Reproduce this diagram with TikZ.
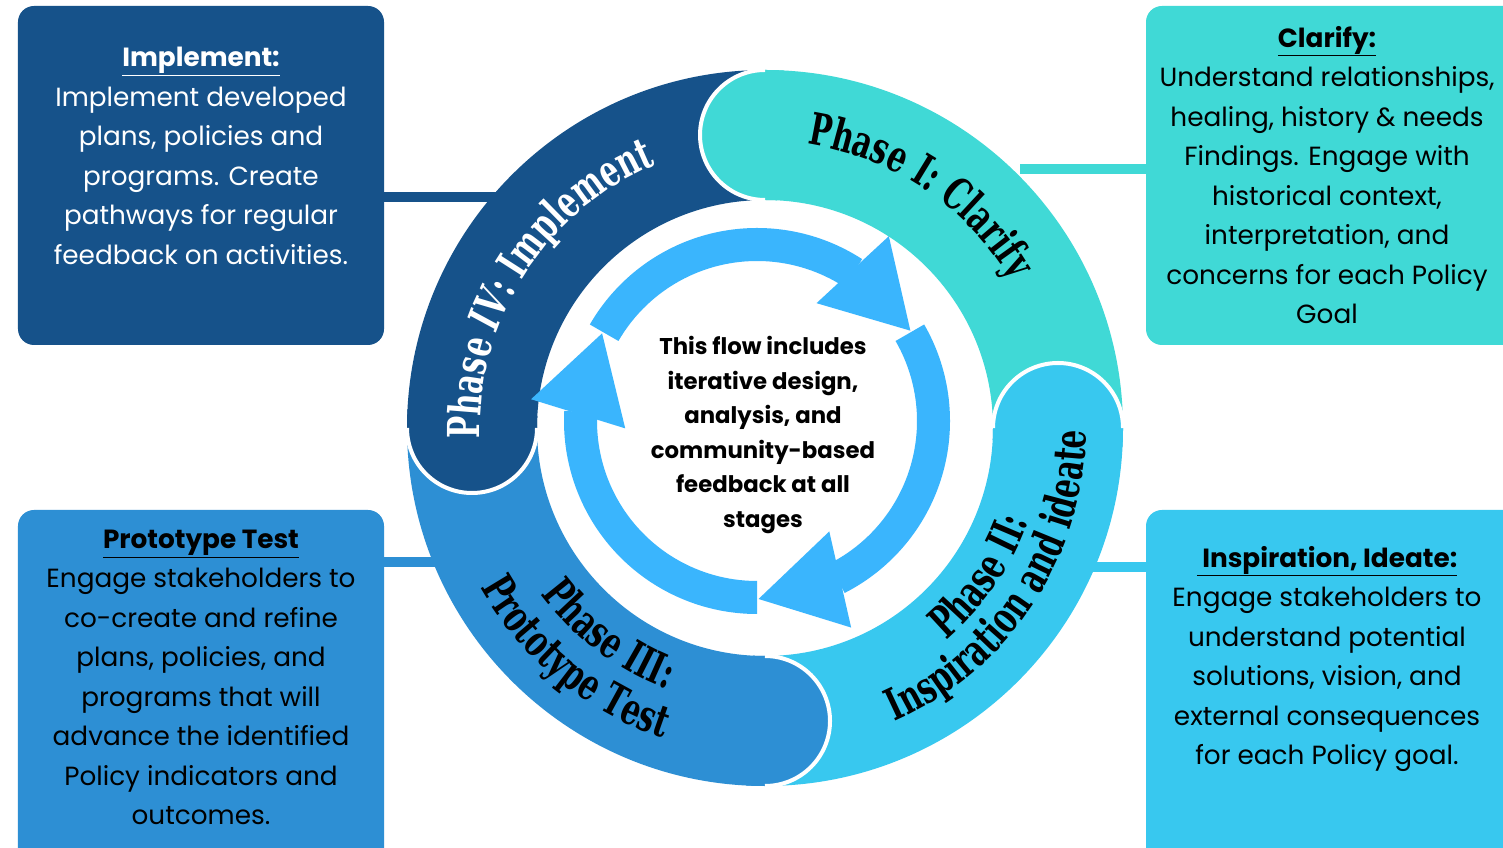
\documentclass[tikz,border=0pt]{standalone}
\usepackage{fontspec}
\setmainfont{Poppins}
\newfontfamily\phasefam[FakeStretch=0.67]{DejaVu Serif Bold}
\newfontfamily\phaseitfam[FakeStretch=0.67]{DejaVu Serif Bold Italic}
\usetikzlibrary{calc,decorations.text}
\definecolor{cI}{HTML}{40D9D6}
\definecolor{cII}{HTML}{38C8EF}
\definecolor{cIII}{HTML}{2D8FD4}
\definecolor{cIV}{HTML}{16528A}
\definecolor{carr}{HTML}{3AB5FD}
\newcommand\phtext{\phasefam\fontsize{44bp}{48bp}\selectfont}
\newcommand\phtextit{\phaseitfam\fontsize{44bp}{48bp}\selectfont}
\newcommand\bodytext{\fontsize{26.3bp}{39.5bp}\selectfont}
\tikzset{
  panel/.style={rectangle, rounded corners=16bp, draw=none, inner sep=0pt},
  paneltext/.style={align=center, inner sep=0pt, font=\bodytext},
  conn/.style={line width=10bp},
  arrfill/.style={fill=carr},
  gapline/.style={draw=white, line width=4bp},
  phaselabel/.style={decorate, decoration={text along path, text align=center, text color=#1}},
}
\begin{document}
\begin{tikzpicture}[x=1bp,y=1bp]
\useasboundingbox (0,0) rectangle (1503,847);
\clip (0,0) rectangle (1503,847);
\fill[white] (0,0) rectangle (1503,847);
\def\Ro{358}\def\Ri{228}\def\Rc{65}
\coordinate (C) at (765,419);
\coordinate (A) at (757,426);

% panels
\node[panel, fill=cIV, minimum width=366bp, minimum height=339bp] (implbox) at (201,671.5) {};
\node[panel, fill=cI, minimum width=384bp, minimum height=339bp] (clarbox) at (1338,671.5) {};
\node[panel, fill=cIII, minimum width=366bp, minimum height=360bp] (protbox) at (201,157) {};
\node[panel, fill=cII, minimum width=384bp, minimum height=360bp] (inspbox) at (1338,157) {};

% connector anchors on the ring
\coordinate (r4) at (505,650);
\coordinate (r1) at (1020,678);
\coordinate (r3) at (448,285);
\coordinate (r2) at (1082,280);
\draw[conn, cIV] (implbox.east |- r4) -- (r4);
\draw[conn, cI] (clarbox.west |- r1) -- (r1);
\draw[conn, cIII] (protbox.east |- r3) -- (r3);
\draw[conn, cII] (inspbox.west |- r2) -- (r2);

% ring sectors
\foreach \h/\c in {90/cI, 180/cIV, 270/cIII, 360/cII}{
  \fill[\c] ($(C)+(\h-90:\Ro)$) arc[start angle=\h-90, end angle=\h, radius=\Ro bp]
    -- ($(C)+(\h:\Ri)$) arc[start angle=\h, end angle=\h-90, radius=\Ri bp] -- cycle;
}
% rounded heads
\foreach \h/\c in {90/cI, 180/cIV, 270/cIII, 360/cII}{
  \fill[\c] ($(C)+(\h-3:\Ro)$) arc[start angle=\h-3, end angle=\h, radius=\Ro bp]
    arc[start angle=\h, end angle=\h+180, radius=\Rc bp]
    arc[start angle=\h, end angle=\h-3, radius=\Ri bp] -- cycle;
  \draw[gapline] ($(C)+(\h:\Ro)$) arc[start angle=\h, end angle=\h+180, radius=\Rc bp];
}

% inner cycle arrows
\foreach \t in {150,30,-90}{
  \fill[arrfill] ($(A)+(\t:193)$) arc[start angle=\t, end angle=\t-93, radius=193bp]
    -- ($(A)+(\t-93:160)$) arc[start angle=\t-93, end angle=\t, radius=160bp] -- cycle;
  \fill[arrfill] ($(A)+(\t-86.8:132)$) -- ($(A)+(\t-95.5:227)$) -- ($(A)+(\t-119.5:178)$) -- cycle;
}

% phase labels
\path[phaselabel=black, decoration={text={|\phtext|Phase I: Clarify}}]
  ($(C)+(116.2:287)$) arc[start angle=116.2, end angle=-3.8, radius=287bp];
\path[phaselabel=white, decoration={text={|\phtext|Phase |\phtextit|IV|\phtext|: Implement}}]
  ($(C)+(207.3:285)$) arc[start angle=207.3, end angle=87.3, radius=285bp];
\path[phaselabel=black, decoration={text={|\phtext|Phase III:}}]
  ($(C)+(173:279)$) arc[start angle=173, end angle=293, radius=279bp];
\path[phaselabel=black, decoration={text={|\phtext|Prototype Test}}]
  ($(C)+(170.5:326)$) arc[start angle=170.5, end angle=290.5, radius=326bp];
\path[phaselabel=black, decoration={text={|\phtext|Phase II:}}]
  ($(C)+(-94.5:279)$) arc[start angle=-94.5, end angle=25.5, radius=279bp];
\path[phaselabel=black, decoration={text={|\phtext|Inspiration and ideate}}]
  ($(C)+(-103.3:321)$) arc[start angle=-103.3, end angle=36.7, radius=321bp];

% centre text
\node[align=center, inner sep=0pt, font=\bfseries\fontsize{22.8bp}{34.6bp}\selectfont] (centre) at (763,412)
  {This flow includes\\iterative design,\\analysis, and\\community-based\\feedback at all\\stages};

% panel texts
\node[paneltext, text=white] (impltext) at (201,691)
  {\underline{\textbf{Implement:}}\\Implement developed\\plans, policies and\\programs. Create\\pathways for regular\\feedback on activities.};
\node[paneltext, text=black] (clartext) at (1327,672)
  {\underline{\textbf{Clarify:}}\\Understand relationships,\\healing, history \& needs\\Findings. Engage with\\historical context,\\interpretation, and\\concerns for each Policy\\Goal};
\node[paneltext, text=black] (prottext) at (201,169.5)
  {\underline{\textbf{Prototype Test}}\\Engage stakeholders to\\co-create and refine\\plans, policies, and\\programs that will\\advance the identified\\Policy indicators and\\outcomes.};
\node[paneltext, text=black] (insptext) at (1327,188)
  {\underline{\textbf{\ Inspiration, Ideate:}}\\Engage stakeholders to\\understand potential\\solutions, vision, and\\external consequences\\for each Policy goal.};
\end{tikzpicture}
\end{document}
